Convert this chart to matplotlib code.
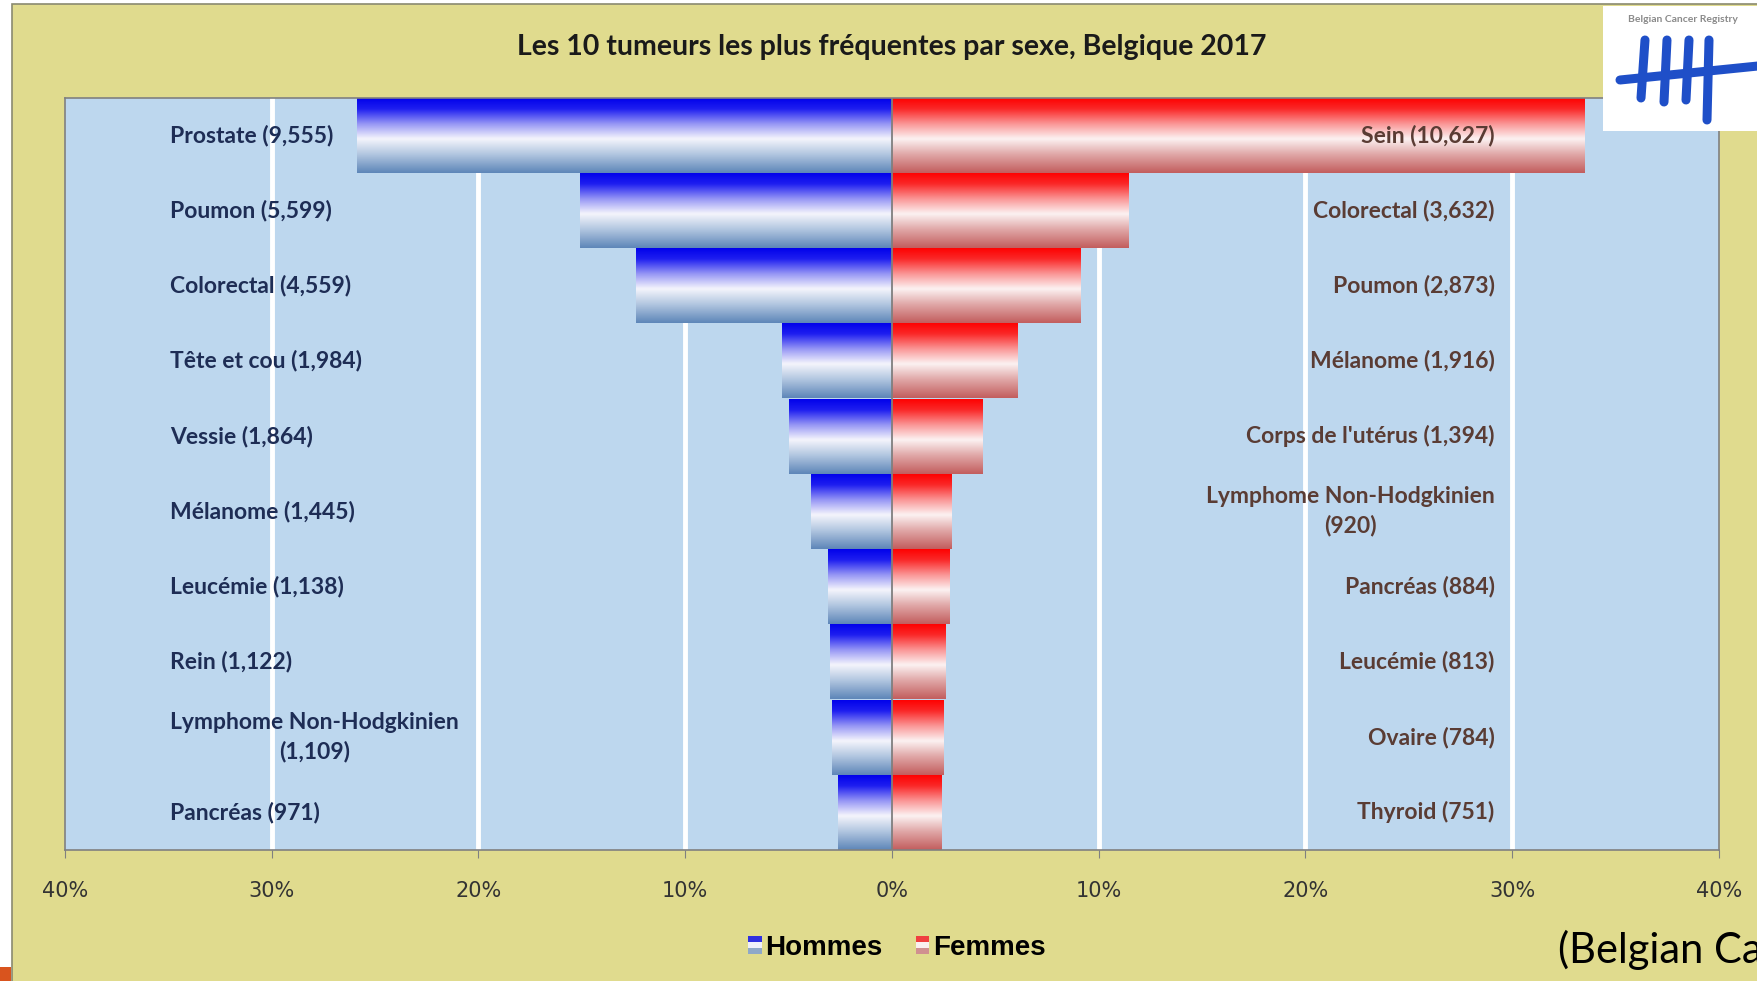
import numpy as np
import matplotlib
matplotlib.use("Agg")
import matplotlib.pyplot as plt
from matplotlib.patches import Rectangle, Patch
from matplotlib.legend_handler import HandlerBase

# data (% of all tumours per sex, counts in brackets)
men_names = ["Prostate", "Poumon", "Colorectal", "Tête et cou", "Vessie", "Mélanome",
             "Leucémie", "Rein", "Lymphome Non-Hodgkinien", "Pancréas"]
men_counts = [9555, 5599, 4559, 1984, 1864, 1445, 1138, 1122, 1109, 971]
men_pct = [25.9, 15.1, 12.4, 5.3, 5.0, 3.9, 3.1, 3.0, 2.9, 2.6]

women_names = ["Sein", "Colorectal", "Poumon", "Mélanome", "Corps de l'utérus",
               "Lymphome Non-Hodgkinien", "Pancréas", "Leucémie", "Ovaire", "Thyroid"]
women_counts = [10627, 3632, 2873, 1916, 1394, 920, 884, 813, 784, 751]
women_pct = [33.5, 11.45, 9.1, 6.05, 4.4, 2.9, 2.8, 2.6, 2.5, 2.4]

xticks = [-40, -30, -20, -10, 0, 10, 20, 30, 40]

YELLOW = "#E0DB8E"
PLOTBG = "#BDD7EE"

# gradient stops (top -> bottom) for the bars
blue_stops = [(0.0, (0, 0, 235)), (0.15, (30, 30, 240)), (0.35, (150, 150, 245)),
              (0.55, (245, 245, 252)), (0.75, (180, 200, 225)), (1.0, (95, 135, 185))]
red_stops = [(0.0, (255, 0, 0)), (0.15, (250, 40, 40)), (0.35, (250, 150, 150)),
             (0.55, (252, 242, 242)), (0.75, (225, 170, 170)), (1.0, (195, 95, 95))]


def gradient(stops, n=64):
    t = np.linspace(0, 1, n)
    pos = [s[0] for s in stops]
    img = np.zeros((n, 1, 3))
    for c in range(3):
        img[:, 0, c] = np.interp(t, pos, [s[1][c] for s in stops]) / 255
    return img


fig = plt.figure(figsize=(17.58, 9.81), dpi=100, facecolor="white")

# yellow slide frame
fig.add_artist(Rectangle((12 / 1758, -0.01), 1.0, 1 - 4 / 981 + 0.01, transform=fig.transFigure,
                         facecolor=YELLOW, edgecolor="#8a8a70", lw=1.2, zorder=0))
fig.add_artist(Rectangle((0, 0), 11 / 1758, 14 / 981, transform=fig.transFigure,
                         facecolor="#D9541E", edgecolor="none", zorder=1))

ax = fig.add_axes([65 / 1758, 1 - 850 / 981, (1719 - 65) / 1758, (850 - 97.5) / 981])
ax.set_facecolor(PLOTBG)

y = np.arange(len(men_names))
bars_m = ax.barh(y, [-v for v in men_pct], height=1.0, facecolor="none", edgecolor="none")
bars_w = ax.barh(y, women_pct, height=1.0, facecolor="none", edgecolor="none")

gb = gradient(blue_stops)
gr = gradient(red_stops)
for bars, img in [(bars_m, gb), (bars_w, gr)]:
    for p in bars:
        x0, y0 = p.get_x(), p.get_y()
        w, h = p.get_width(), p.get_height()
        im = ax.imshow(img, extent=(min(x0, x0 + w), max(x0, x0 + w), y0 + h, y0),
                       aspect="auto", zorder=2, interpolation="bilinear")
        im.set_clip_path(p)

for v in [-30, -20, -10, 10, 20, 30]:
    ax.axvline(v, color="white", lw=3.5, zorder=0.5)
ax.axvline(0, color="#7f7f7f", lw=1.3, zorder=3)

ax.set_xlim(-40, 40)
ax.set_ylim(len(men_names) - 0.5, -0.5)

for i, (n, c) in enumerate(zip(men_names, men_counts)):
    sep = "\n" if len(n) > 20 else " "
    ax.text(-34.9, i, f"{n}{sep}({c:,})", ha="left", va="center", multialignment="center",
            linespacing=1.45, fontsize=16.5, fontweight="bold", family="Lato",
            color="#1E2D55", zorder=4)
for i, (n, c) in enumerate(zip(women_names, women_counts)):
    sep = "\n" if len(n) > 20 else " "
    ax.text(29.15, i, f"{n}{sep}({c:,})", ha="right", va="center", multialignment="center",
            linespacing=1.45, fontsize=16.5, fontweight="bold", family="Lato",
            color="#5A3C34", zorder=4)

ax.set_yticks([])
ax.set_xticks(xticks)
ax.set_xticklabels([f"{abs(v)}%" for v in xticks], fontsize=15, color="#333333")
ax.tick_params(axis="x", direction="out", length=6, color="#808080", pad=16)
for s in ax.spines.values():
    s.set_color("#808080")
    s.set_linewidth(1.2)

fig.text(0.507, 1 - 47 / 981, "Les 10 tumeurs les plus fréquentes par sexe, Belgique 2017",
         ha="center", va="center", fontsize=20.5, fontweight="bold", family="Lato", color="#1a1a1a")


class GradHandler(HandlerBase):
    def __init__(self, cols):
        super().__init__()
        self.cols = cols

    def create_artists(self, legend, orig_handle, xdescent, ydescent, width, height, fontsize, trans):
        n = len(self.cols)
        arts = []
        for k, col in enumerate(self.cols):
            r = Rectangle((-xdescent, -ydescent + height * (n - 1 - k) / n), width, height / n,
                          facecolor=col, edgecolor="none", transform=trans)
            arts.append(r)
        return arts


h1, h2 = Patch(), Patch()
fig.legend([h1, h2], ["Hommes", "Femmes"], loc="center", bbox_to_anchor=(0.510, 1 - 948 / 981),
           ncol=2, frameon=False, handlelength=0.5, handleheight=0.6, handletextpad=0.12,
           columnspacing=1.2, prop={"family": "Liberation Sans", "weight": "bold", "size": 20},
           handler_map={h1: GradHandler(["#3030e0", "#f0f0fa", "#8fa8c8"]),
                        h2: GradHandler(["#f04040", "#faf0f0", "#d09090"])})

fig.text(1558 / 1758, 1 - 950 / 981, "(Belgian Cancer Registry)", ha="left", va="center",
         fontsize=30, family="Lato", color="black")

# registry logo in the upper right corner
lax = fig.add_axes([1603 / 1758, 1 - 131 / 981, 155 / 1758, 125 / 981])
lax.set_xlim(0, 155)
lax.set_ylim(125, 0)
lax.add_patch(Rectangle((0, 0), 155, 125, facecolor="white", edgecolor="none"))
lax.axis("off")
lax.text(80, 13, "Belgian Cancer Registry", ha="center", va="center", fontsize=7.5,
         fontweight="bold", color="#8a8a8a", family="Lato")
for xs, ys in [((42, 38), (34, 92)), ((64, 61), (34, 96)), ((86, 83), (34, 94)),
               ((106, 104), (34, 114)), ((17, 155), (74, 60))]:
    lax.plot(xs, ys, color="#1F4FC8", lw=6.5, solid_capstyle="round")

fig.savefig("out.png", dpi=100, facecolor=fig.get_facecolor())
